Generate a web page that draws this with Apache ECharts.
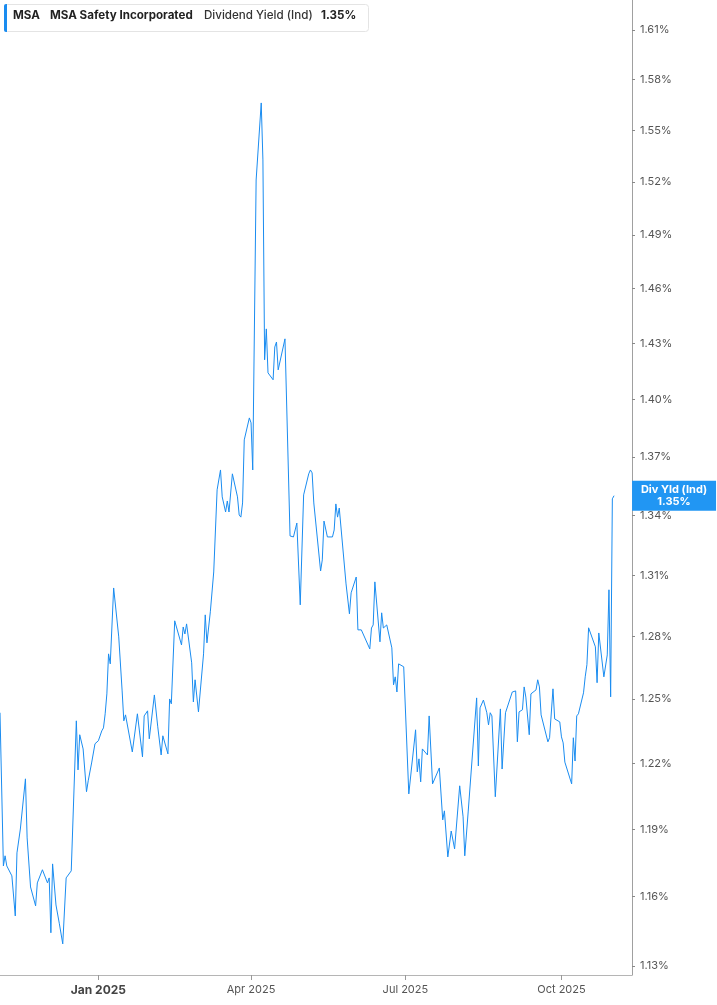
<!DOCTYPE html>
<html>
<head>
<meta charset="utf-8">
<script src="https://cdn.jsdelivr.net/npm/echarts@6/dist/echarts.min.js"></script>
<style>
html,body{margin:0;padding:0;background:#fff;}
#chart{width:717px;height:1005px;}
</style>
</head>
<body>
<div id="chart"></div>
<script>
var ticker = 'MSA';
var companyName = 'MSA Safety Incorporated';
var metricName = 'Dividend Yield (Ind)';
var tagName = 'Div Yld (Ind)';

var dates = [
'2024-11-04','2024-11-06','2024-11-07','2024-11-08','2024-11-11','2024-11-13','2024-11-14','2024-11-16','2024-11-19','2024-11-20',
'2024-11-21','2024-11-22','2024-11-25','2024-11-26','2024-11-29','2024-12-02','2024-12-03','2024-12-04','2024-12-05','2024-12-07',
'2024-12-09','2024-12-11','2024-12-13','2024-12-16','2024-12-19','2024-12-20','2024-12-21','2024-12-23','2024-12-25','2024-12-26',
'2024-12-28','2024-12-30','2025-01-01','2025-01-03','2025-01-04','2025-01-05','2025-01-06','2025-01-07','2025-01-08','2025-01-10',
'2025-01-13','2025-01-15','2025-01-16','2025-01-17','2025-01-21','2025-01-24','2025-01-27','2025-01-28','2025-01-30','2025-01-31',
'2025-02-03','2025-02-05','2025-02-07','2025-02-08','2025-02-11','2025-02-12','2025-02-13','2025-02-15','2025-02-19','2025-02-20',
'2025-02-21','2025-02-22','2025-02-25','2025-02-26','2025-02-27','2025-03-01','2025-03-04','2025-03-05','2025-03-06','2025-03-08',
'2025-03-10','2025-03-12','2025-03-14','2025-03-15','2025-03-17','2025-03-18','2025-03-19','2025-03-21','2025-03-24','2025-03-25',
'2025-03-26','2025-03-27','2025-03-28','2025-03-31','2025-04-01','2025-04-02','2025-04-04','2025-04-07','2025-04-08','2025-04-09',
'2025-04-10','2025-04-11','2025-04-14','2025-04-15','2025-04-16','2025-04-17','2025-04-21','2025-04-24','2025-04-26','2025-04-28',
'2025-04-30','2025-05-02','2025-05-05','2025-05-06','2025-05-07','2025-05-08','2025-05-09','2025-05-12','2025-05-13','2025-05-14',
'2025-05-15','2025-05-16','2025-05-19','2025-05-20','2025-05-21','2025-05-22','2025-05-23','2025-05-27','2025-05-28','2025-05-29',
'2025-05-30','2025-06-02','2025-06-03','2025-06-04','2025-06-05','2025-06-06','2025-06-10','2025-06-11','2025-06-12','2025-06-13',
'2025-06-16','2025-06-17','2025-06-18','2025-06-20','2025-06-23','2025-06-24','2025-06-25','2025-06-26','2025-06-27','2025-06-30',
'2025-07-03','2025-07-07','2025-07-08','2025-07-09','2025-07-10','2025-07-11','2025-07-14','2025-07-15','2025-07-17','2025-07-21',
'2025-07-23','2025-07-24','2025-07-26','2025-07-28','2025-07-30','2025-08-02','2025-08-04','2025-08-05','2025-08-07','2025-08-12',
'2025-08-13','2025-08-14','2025-08-16','2025-08-18','2025-08-19','2025-08-20','2025-08-21','2025-08-23','2025-08-26','2025-08-27',
'2025-08-29','2025-09-02','2025-09-04','2025-09-05','2025-09-06','2025-09-08','2025-09-09','2025-09-10','2025-09-12','2025-09-13',
'2025-09-16','2025-09-17','2025-09-18','2025-09-19','2025-09-23','2025-09-24','2025-09-26','2025-09-27','2025-09-30','2025-10-01',
'2025-10-02','2025-10-03','2025-10-07','2025-10-08','2025-10-09','2025-10-10','2025-10-11','2025-10-14','2025-10-15','2025-10-16',
'2025-10-17','2025-10-18','2025-10-21','2025-10-22','2025-10-23','2025-10-26','2025-10-28','2025-10-29','2025-10-30','2025-10-31',
'2025-11-01'
];

var yieldValues = [
1.2436,1.1736,1.1781,1.1736,1.1692,1.1516,1.1794,1.1901,1.2129,1.1861,
1.1861,1.1643,1.1560,1.1661,1.1719,1.1661,1.1683,1.1443,1.1745,1.1564,
1.1482,1.1395,1.1683,1.1714,1.2398,1.2170,1.2333,1.2267,1.2070,1.2120,
1.2202,1.2291,1.2305,1.2351,1.2365,1.2431,1.2525,1.2716,1.2668,1.3037,
1.2798,1.2539,1.2398,1.2426,1.2253,1.2431,1.2230,1.2421,1.2445,1.2314,
1.2520,1.2370,1.2239,1.2328,1.2244,1.2501,1.2478,1.2876,1.2759,1.2846,
1.2812,1.2861,1.2673,1.2487,1.2592,1.2440,1.2716,1.2905,1.2769,1.2920,
1.3116,1.3530,1.3632,1.3494,1.3417,1.3473,1.3417,1.3612,1.3494,1.3402,
1.3391,1.3463,1.3788,1.3903,1.3877,1.3632,1.5212,1.5662,1.5328,1.4212,
1.4379,1.4142,1.4105,1.4281,1.4308,1.4158,1.4325,1.3296,1.3291,1.3361,
1.2954,1.3504,1.3612,1.3632,1.3617,1.3463,1.3453,1.3121,1.3176,1.3371,
1.3366,1.3291,1.3291,1.3326,1.3458,1.3391,1.3437,1.3057,1.3057,1.2910,
1.3013,1.3091,1.2832,1.2841,1.2832,1.2836,1.2740,1.2841,1.2856,1.3067,
1.2774,1.2915,1.2841,1.2856,1.2745,1.2568,1.2606,1.2534,1.2668,1.2654,
1.2060,1.2356,1.2161,1.2221,1.2115,1.2267,1.2239,1.2421,1.2106,1.2179,
1.1942,1.1983,1.1776,1.1892,1.1812,1.2097,1.1956,1.1781,1.1978,1.2506,
1.2188,1.2459,1.2496,1.2436,1.2379,1.2436,1.2421,1.2047,1.2454,1.2174,
1.2436,1.2534,1.2539,1.2300,1.2440,1.2450,1.2558,1.2510,1.2333,1.2525,
1.2544,1.2592,1.2558,1.2426,1.2300,1.2319,1.2549,1.2407,1.2393,1.2323,
1.2295,1.2206,1.2106,1.2319,1.2211,1.2421,1.2431,1.2530,1.2606,1.2664,
1.2842,1.2842,1.2750,1.2578,1.2817,1.2606,1.2711,1.3028,1.2511,1.3484,
1.3500
];

var yTicks = [1.13,1.16,1.19,1.22,1.25,1.28,1.31,1.34,1.37,1.40,1.43,1.46,1.49,1.52,1.55,1.58,1.61];
var xTickDates = ['2025-01-01','2025-04-01','2025-07-01','2025-10-01'];
var monthNames = ['Jan','Feb','Mar','Apr','May','Jun','Jul','Aug','Sep','Oct','Nov','Dec'];

function toTime(s) { return new Date(s.length > 10 ? s : s + 'T00:00:00').getTime(); }

var lastValue = yieldValues[yieldValues.length - 1];
var lastText = lastValue.toFixed(2) + '%';
var FONT = 'Inter, "Noto Sans", sans-serif';
var BLUE = '#1a8cf0';

var seriesData = dates.map(function (d, i) { return [toTime(d), yieldValues[i]]; });
var xTicks = xTickDates.map(toTime);

var chart = echarts.init(document.getElementById('chart'), null, {renderer: 'canvas'});
chart.setOption({
  animation: false,
  backgroundColor: '#ffffff',
  grid: {left: 0, right: 85, top: 0, bottom: 30, containLabel: false, outerBoundsMode: 'none'},
  xAxis: {
    type: 'value',
    min: toTime('2024-11-04'),
    max: toTime('2025-11-11T14:00:00'),
    splitLine: {show: false},
    axisLine: {show: true, onZero: false, lineStyle: {color: '#b5b5b5', width: 1}},
    axisTick: {show: true, customValues: xTicks, length: 5, inside: false, lineStyle: {color: '#999'}},
    axisLabel: {
      customValues: xTicks,
      margin: 9,
      color: '#555',
      fontFamily: FONT,
      fontSize: 11,
      formatter: function (v) {
        var d = new Date(v);
        var m = d.getMonth();
        var s = monthNames[m] + ' ' + d.getFullYear();
        return m === 0 ? '{b|' + s + '}' : s;
      },
      rich: {b: {fontWeight: 'bold', fontSize: 12, color: '#444', fontFamily: FONT}}
    }
  },
  yAxis: {
    type: 'log',
    logBase: 10,
    position: 'right',
    min: 1.12617,
    max: 1.62837,
    splitLine: {show: false},
    axisLine: {show: true, lineStyle: {color: '#a0a0a0', width: 1}},
    axisTick: {show: true, customValues: yTicks, length: 3, lineStyle: {color: '#888'}},
    axisLabel: {
      customValues: yTicks,
      margin: 8,
      color: '#555',
      fontFamily: FONT,
      fontSize: 11,
      formatter: function (v) { return (+v).toFixed(2) + '%'; }
    }
  },
  series: [{
    type: 'line',
    data: seriesData,
    showSymbol: false,
    symbol: 'none',
    lineStyle: {color: BLUE, width: 1},
    itemStyle: {color: BLUE},
    endLabel: {
      show: true,
      distance: 18,
      formatter: function () { return '{a|' + tagName + '}\n{a|' + lastText + '}'; },
      backgroundColor: '#2196f3',
      padding: [3, 6, 3, 6],
      rich: {
        a: {width: 72, align: 'center', color: '#fff', fontWeight: 'bold', fontSize: 11, lineHeight: 12, fontFamily: FONT}
      }
    }
  }],
  graphic: [
    {type: 'rect', left: 4, top: 4, shape: {width: 364, height: 27, r: 3}, style: {fill: '#fff', stroke: '#e4e4e4', lineWidth: 1}, z: 100},
    {type: 'rect', left: 4, top: 4, shape: {width: 3, height: 28, r: [2, 0, 0, 2]}, style: {fill: BLUE}, z: 101},
    {type: 'text', left: 13, top: 10, style: {text: ticker, fill: '#222', font: 'bold 11.6px ' + FONT}, z: 102},
    {type: 'text', left: 50, top: 10, style: {text: companyName, fill: '#222', font: 'bold 11.6px ' + FONT}, z: 102},
    {type: 'text', left: 204, top: 10, style: {text: metricName, fill: '#333', font: '500 11.6px ' + FONT}, z: 102},
    {type: 'text', left: 321, top: 10, style: {text: lastText, fill: '#222', font: 'bold 11.6px ' + FONT}, z: 102}
  ]
});
</script>
</body>
</html>
